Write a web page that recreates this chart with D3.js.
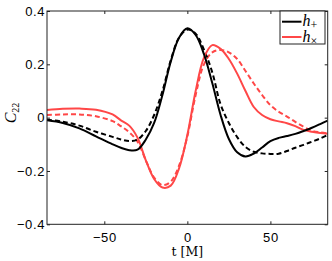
<!DOCTYPE html>
<html>
<head>
<meta charset="utf-8">
<script src="https://cdn.jsdelivr.net/npm/d3@7"></script>
<style>
  body { margin: 0; background: #fff; }
  svg { display: block; }
</style>
</head>
<body>
<div id="chart"></div>
<script>
// time samples [M]
var time = [-84.5, -75, -65, -55, -45, -40, -35, -30, -25, -20, -15, -10, -5, 0, 5,
            10, 15, 20, 25, 30, 35, 40, 45, 50, 55, 60, 65, 70, 75, 80, 84.5];

// h+ (solid and dashed)
var hPlus = [-0.010, -0.020, -0.040, -0.070, -0.100, -0.113, -0.122, -0.120, -0.082, -0.020, 0.085,
             0.210, 0.300, 0.335, 0.310, 0.238, 0.130, 0.010, -0.080, -0.130, -0.146, -0.135,
             -0.112, -0.088, -0.076, -0.069, -0.061, -0.050, -0.038, -0.024, -0.011];
var hPlusDash = [-0.008, -0.015, -0.030, -0.053, -0.072, -0.082, -0.088, -0.082, -0.050, 0.010, 0.100,
                 0.215, 0.300, 0.330, 0.315, 0.255, 0.170, 0.050, -0.020, -0.073, -0.110, -0.128,
                 -0.134, -0.136, -0.135, -0.125, -0.113, -0.102, -0.090, -0.078, -0.065];

// hx (solid and dashed)
var hCross = [0.029, 0.033, 0.034, 0.030, 0.012, -0.010, -0.030, -0.075, -0.160, -0.230, -0.262,
              -0.255, -0.190, -0.065, 0.100, 0.225, 0.272, 0.258, 0.220, 0.165, 0.100, 0.040,
              0.010, -0.006, -0.014, -0.021, -0.032, -0.046, -0.053, -0.058, -0.060];
var hCrossDash = [0.010, 0.012, 0.012, 0.005, -0.013, -0.032, -0.055, -0.090, -0.160, -0.225, -0.253,
                  -0.240, -0.180, -0.070, 0.085, 0.200, 0.245, 0.254, 0.245, 0.220, 0.175, 0.128,
                  0.085, 0.047, 0.022, 0.004, -0.016, -0.034, -0.049, -0.055, -0.059];

var xTicks = [-50, 0, 50];
var yTicks = [-0.4, -0.2, 0, 0.2, 0.4];
var legendNames = ["+", "\u00d7"];

var W = 332, H = 261;
var margin = {top: 11, right: 4.3, bottom: 36.7, left: 47};
var width = W - margin.left - margin.right;
var height = H - margin.top - margin.bottom;

var svg = d3.select("#chart").append("svg")
    .attr("width", W)
    .attr("height", H);

var g = svg.append("g")
    .attr("transform", "translate(" + margin.left + "," + margin.top + ")");

var x = d3.scaleLinear().domain([-84.5, 84.5]).range([0, width]);
var y = d3.scaleLinear().domain([-0.4, 0.4]).range([height, 0]);

var black = "#000", red = "#ff4747";

// clip the curves to the axes box
g.append("clipPath").attr("id", "clip")
    .append("rect").attr("width", width).attr("height", height);

var line = d3.line()
    .x(function (d) { return x(d[0]); })
    .y(function (d) { return y(d[1]); })
    .curve(d3.curveCatmullRom.alpha(0.5));

var series = [
    {vals: hCrossDash, color: red, dash: "5,3"},
    {vals: hPlusDash, color: black, dash: "5,3"},
    {vals: hCross, color: red, dash: null},
    {vals: hPlus, color: black, dash: null}
];

g.append("g").attr("clip-path", "url(#clip)")
  .selectAll("path")
  .data(series)
  .enter()
  .append("path")
    .attr("d", function (s) { return line(time.map(function (t, i) { return [t, s.vals[i]]; })); })
    .attr("fill", "none")
    .attr("stroke", function (s) { return s.color; })
    .attr("stroke-width", 2)
    .attr("stroke-dasharray", function (s) { return s.dash; });

// axes (matlab style: box with inward ticks on all sides)
function fmt(v) {
    if (v === 0) return "0";
    var s = d3.format(".1f")(Math.abs(v));
    return v < 0 ? "\u2212" + s : s;
}
function styleAxis(sel) {
    sel.select(".domain").remove();
    sel.selectAll("line").attr("stroke", "#222");
    sel.selectAll("text")
        .attr("fill", "#000")
        .style("font-family", "'Liberation Sans', Arial, sans-serif")
        .style("font-size", "13px")
        .style("letter-spacing", "0.6px");
}

g.append("g").attr("transform", "translate(0," + height + ")")
    .call(d3.axisBottom(x).tickValues(xTicks).tickSize(-3).tickPadding(8)
        .tickFormat(function (d) { return d === 0 ? "0" : (d < 0 ? "\u2212" : "") + Math.abs(d); }))
    .call(styleAxis);
g.append("g")
    .call(d3.axisTop(x).tickValues(xTicks).tickSize(-3).tickFormat(""))
    .call(styleAxis);
g.append("g")
    .call(d3.axisLeft(y).tickValues(yTicks).tickSize(-3).tickPadding(2).tickFormat(fmt))
    .call(styleAxis);
g.append("g").attr("transform", "translate(" + width + ",0)")
    .call(d3.axisRight(y).tickValues(yTicks).tickSize(-3).tickFormat(""))
    .call(styleAxis);

g.append("rect")
    .attr("width", width).attr("height", height)
    .attr("fill", "none").attr("stroke", "#222").attr("stroke-width", 1);

// axis labels
svg.append("text")
    .attr("x", margin.left + x(0)).attr("y", 256)
    .attr("text-anchor", "middle")
    .style("font-family", "'DejaVu Serif', 'Liberation Serif', serif")
    .style("font-size", "12.5px")
    .text("t [M]");

var ylab = svg.append("text")
    .attr("transform", "translate(16,113) rotate(-90)")
    .attr("text-anchor", "middle")
    .style("font-family", "'Liberation Serif', serif")
    .style("font-size", "16px");
ylab.append("tspan").style("font-style", "italic").text("C");
ylab.append("tspan").attr("dy", 3).style("font-size", "10px").text("22");

// legend
var lg = svg.append("g").attr("transform", "translate(280,11)");
lg.append("rect").attr("width", 45).attr("height", 33)
    .attr("fill", "#fff").attr("stroke", "#222");
var items = lg.selectAll("g.item")
    .data([{name: legendNames[0], color: black}, {name: legendNames[1], color: red}])
    .enter().append("g")
    .attr("transform", function (d, i) { return "translate(0," + (10.7 + i * 15.3) + ")"; });
items.append("line")
    .attr("x1", 2).attr("x2", 21.5)
    .attr("stroke", function (d) { return d.color; })
    .attr("stroke-width", 2);
var lt = items.append("text")
    .attr("x", 22.5).attr("y", 4.5)
    .style("font-family", "'Liberation Serif', serif")
    .style("font-size", "16px");
lt.append("tspan").style("font-style", "italic").text("h");
lt.append("tspan").attr("dy", 3).style("font-size", "12px").text(function (d) { return d.name; });
</script>
</body>
</html>
